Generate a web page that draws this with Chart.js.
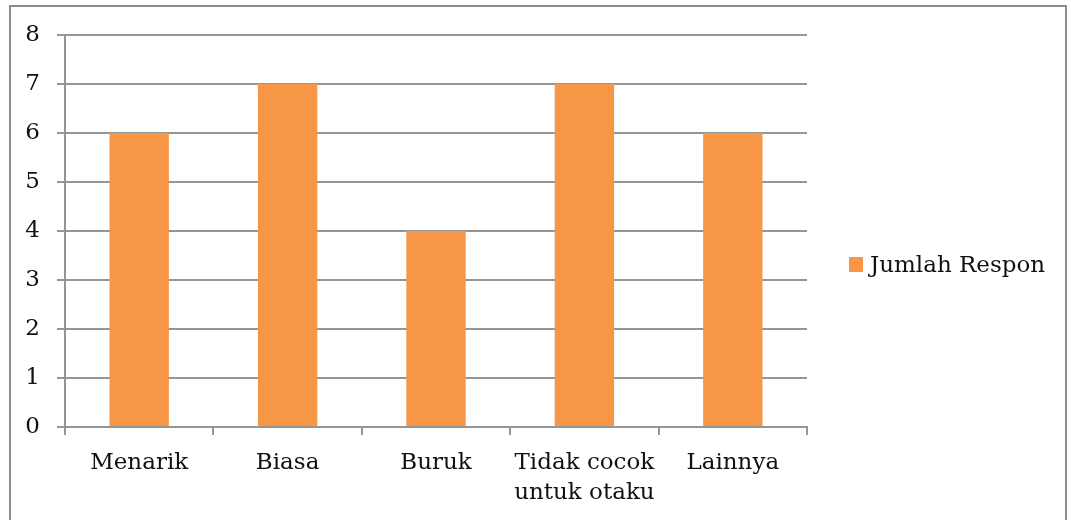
<!DOCTYPE html>
<html>
<head>
<meta charset="utf-8">
<script src="https://cdn.jsdelivr.net/npm/chart.js@4"></script>
<style>
  html, body { margin: 0; padding: 0; background: #fff; }
  #wrap { width: 1071px; height: 520px; position: relative; }
</style>
</head>
<body>
<div id="wrap"><canvas id="chart" width="1071" height="520"></canvas></div>
<script>
// data
const categories = ["Menarik", "Biasa", "Buruk", ["Tidak cocok", "untuk otaku"], "Lainnya"];
const seriesName = "Jumlah Respon";
const seriesValues = [6, 7, 4, 7, 6];
const yTicks = [0, 1, 2, 3, 4, 5, 6, 7, 8];

const FONT = "'DejaVu Serif', 'Liberation Serif', serif";
const GRID = "#959595";
const ORANGE = "#F79646";

// outer frame + legend drawn on the canvas
const framePlugin = {
    id: "frame",
    afterDraw(chart) {
        const ctx = chart.ctx;
        ctx.save();
        ctx.strokeStyle = "#8c8c8c";
        ctx.lineWidth = 2;
        ctx.strokeRect(10, 6, 1056, 600);

        const ds = chart.data.datasets[0];
        ctx.fillStyle = ds.backgroundColor;
        ctx.fillRect(849, 257, 14, 15);
        ctx.fillStyle = "#111";
        ctx.font = "23px " + FONT;
        ctx.textBaseline = "middle";
        ctx.textAlign = "left";
        ctx.fillText(ds.label, 870, 266);
        ctx.restore();
    }
};

new Chart(document.getElementById("chart"), {
    type: "bar",
    data: {
        labels: categories,
        datasets: [{
            label: seriesName,
            data: seriesValues,
            backgroundColor: ORANGE,
            categoryPercentage: 0.4,
            barPercentage: 1.0
        }]
    },
    options: {
        responsive: false,
        animation: false,
        layout: { padding: { left: 0, right: 264, top: 35, bottom: 0 } },
        plugins: {
            legend: { display: false },
            tooltip: { enabled: false }
        },
        scales: {
            x: {
                offset: true,
                grid: {
                    offset: true,
                    drawOnChartArea: false,
                    color: GRID,
                    lineWidth: 2,
                    tickLength: 8
                },
                border: { color: GRID, width: 2 },
                ticks: {
                    color: "#111",
                    font: { family: FONT, size: 23, lineHeight: 1.3 },
                    padding: 13,
                    maxRotation: 0,
                    autoSkip: false
                },
                afterFit(s) { s.height = 93; }
            },
            y: {
                min: 0,
                max: 8,
                afterBuildTicks(s) { s.ticks = yTicks.map(v => ({ value: v })); },
                grid: { color: GRID, lineWidth: 2, tickLength: 8 },
                border: { color: GRID, width: 2 },
                ticks: {
                    color: "#111",
                    font: { family: FONT, size: 23 },
                    padding: 17
                },
                afterFit(s) { s.width = 65; }
            }
        }
    },
    plugins: [framePlugin]
});
</script>
</body>
</html>
